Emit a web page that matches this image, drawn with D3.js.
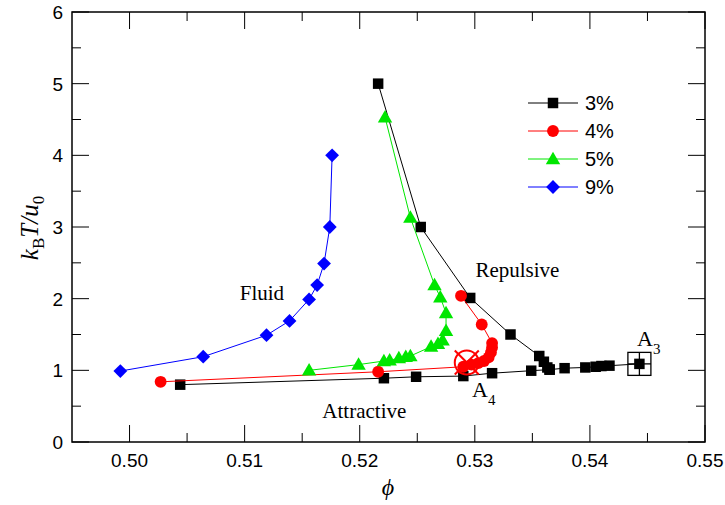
<!DOCTYPE html>
<html>
<head>
<meta charset="utf-8">
<script src="https://cdn.jsdelivr.net/npm/d3@7"></script>
<style>
  body { margin: 0; background: #fff; }
  svg text { fill: #000; }
</style>
</head>
<body>
<svg id="chart" width="725" height="505"></svg>
<script>
// phase diagram: kT/u0 vs packing fraction for several polydispersities

// 3% — two branches that meet near phi = 0.5365
const s3Upper = [[0.5216, 5.0], [0.5253, 3.0], [0.5296, 2.01], [0.5331, 1.5], [0.5356, 1.2],
                 [0.5360, 1.12], [0.5363, 1.04], [0.5365, 1.01]];
const s3Lower = [[0.5044, 0.80], [0.5221, 0.89], [0.5249, 0.91], [0.5290, 0.92], [0.5315, 0.96],
                 [0.5349, 0.995], [0.5365, 1.01], [0.5378, 1.03], [0.5396, 1.04], [0.5405, 1.05],
                 [0.5410, 1.06], [0.5417, 1.065], [0.5443, 1.09]];
const s4 = [[0.5027, 0.84], [0.5216, 0.98], [0.5290, 1.05], [0.5297, 1.08], [0.5303, 1.10],
            [0.5308, 1.13], [0.5312, 1.18], [0.5314, 1.25], [0.5315, 1.32], [0.5315, 1.38],
            [0.5306, 1.64], [0.5288, 2.04]];
const s5 = [[0.5156, 1.00], [0.5199, 1.08], [0.5221, 1.13], [0.5226, 1.14], [0.5234, 1.17],
            [0.5240, 1.19], [0.5244, 1.20], [0.5262, 1.33], [0.5268, 1.37], [0.5272, 1.42],
            [0.5275, 1.55], [0.5275, 1.80], [0.5270, 2.02], [0.5265, 2.19], [0.5244, 3.13],
            [0.5222, 4.53]];
const s9 = [[0.4992, 0.99], [0.5064, 1.19], [0.5119, 1.49], [0.5139, 1.69], [0.5156, 1.99],
            [0.5163, 2.19], [0.5169, 2.49], [0.5174, 3.0], [0.5176, 4.0]];

const legendLabels = ["3%", "4%", "5%", "9%"];
const xTicks = [0.50, 0.51, 0.52, 0.53, 0.54, 0.55];
const yTicks = [0, 1, 2, 3, 4, 5, 6];
const A3 = [0.5443, 1.09];
const A4 = [0.5293, 1.11];
const regionLabels = [["Fluid", 0.5115, 1.98], ["Repulsive", 0.5337, 2.30], ["Attractive", 0.5204, 0.33]];

const svg = d3.select("#chart");
const L = 72, R = 705, T = 12, B = 442;
const x = d3.scaleLinear().domain([0.495, 0.55]).range([L, R]);
const y = d3.scaleLinear().domain([0, 6]).range([B, T]);

const sans = "'Liberation Sans', Arial, sans-serif";
const serif = "'Liberation Serif', 'Times New Roman', serif";

// ticks on all four sides, pointing in
const xMinor = d3.range(0.505, 0.55, 0.01);
const yMinor = d3.range(0.5, 6, 1);
const tk = svg.append("g").attr("stroke", "#000").attr("stroke-width", 1);
xTicks.concat(xMinor).forEach((v, i) => {
  const len = i < xTicks.length ? 17 : 9;
  tk.append("line").attr("x1", x(v)).attr("x2", x(v)).attr("y1", B).attr("y2", B - len);
  tk.append("line").attr("x1", x(v)).attr("x2", x(v)).attr("y1", T).attr("y2", T + len);
});
yTicks.concat(yMinor).forEach((v, i) => {
  const len = i < yTicks.length ? 17 : 9;
  tk.append("line").attr("y1", y(v)).attr("y2", y(v)).attr("x1", L).attr("x2", L + len);
  tk.append("line").attr("y1", y(v)).attr("y2", y(v)).attr("x1", R).attr("x2", R - len);
});
svg.append("rect").attr("x", L).attr("y", T).attr("width", R - L).attr("height", B - T)
  .attr("fill", "none").attr("stroke", "#000").attr("stroke-width", 1.5);

svg.append("g").selectAll("text").data(xTicks).join("text")
  .attr("x", d => x(d)).attr("y", 467).attr("text-anchor", "middle")
  .style("font-family", sans).style("font-size", "19px")
  .text(d => d3.format(".2f")(d));
svg.append("g").selectAll("text").data(yTicks).join("text")
  .attr("x", 63).attr("y", d => y(d) + 7).attr("text-anchor", "end")
  .style("font-family", sans).style("font-size", "19px")
  .text(d => d);

// axis titles
svg.append("text").attr("x", 388).attr("y", 495).attr("text-anchor", "middle")
  .style("font-family", serif).style("font-style", "italic").style("font-size", "24px").text("ϕ");
const yl = svg.append("text").attr("transform", "translate(38,228) rotate(-90)")
  .attr("text-anchor", "middle").style("font-family", serif).style("font-size", "25px");
yl.append("tspan").style("font-style", "italic").text("k");
yl.append("tspan").attr("dy", 6).style("font-size", "17px").text("B");
yl.append("tspan").attr("dy", -6).style("font-style", "italic").text("T/u");
yl.append("tspan").attr("dy", 6).style("font-size", "17px").text("0");

// markers
const sym = {
  square: d3.symbol().type(d3.symbolSquare).size(110),
  circle: d3.symbol().type(d3.symbolCircle).size(110),
  triangle: d3.symbol().type(d3.symbolTriangle).size(90),
  diamond: d3.symbol().type(d3.symbolSquare).size(95)
};
const series = [
  { parts: [s3Upper, s3Lower], color: "#000", marker: "square" },
  { parts: [s4], color: "#ff0000", marker: "circle" },
  { parts: [s5], color: "#00e600", marker: "triangle" },
  { parts: [s9], color: "#0000ff", marker: "diamond" }
];
const line = d3.line().x(d => x(d[0])).y(d => y(d[1]));

function marker(g, s, px, py) {
  const p = g.append("path").attr("d", sym[s.marker]()).attr("fill", s.color);
  let tf = `translate(${px},${py})`;
  if (s.marker === "diamond") tf += " rotate(45)";
  if (s.marker === "triangle") tf = `translate(${px},${py + 1})`;
  p.attr("transform", tf);
}

series.forEach(s => {
  const g = svg.append("g");
  s.parts.forEach(part => {
    g.append("path").attr("d", line(part)).attr("fill", "none")
      .attr("stroke", s.color).attr("stroke-width", 1);
  });
  s.parts.forEach(part => part.forEach(d => marker(g, s, x(d[0]), y(d[1]))));
});

// critical points
const a3x = x(A3[0]), a3y = y(A3[1]);
const a3 = svg.append("g").attr("stroke", "#000").attr("stroke-width", 1.3).attr("fill", "none");
a3.append("rect").attr("x", a3x - 11.5).attr("y", a3y - 11.5).attr("width", 23).attr("height", 23);
a3.append("line").attr("x1", a3x).attr("x2", a3x).attr("y1", a3y - 11.5).attr("y2", a3y + 11.5);
a3.append("line").attr("x1", a3x - 11.5).attr("x2", a3x + 11.5).attr("y1", a3y).attr("y2", a3y);

const a4x = x(A4[0]), a4y = y(A4[1]);
const a4 = svg.append("g").attr("stroke", "#ff0000").attr("stroke-width", 2).attr("fill", "none");
a4.append("circle").attr("cx", a4x).attr("cy", a4y).attr("r", 12);
a4.append("line").attr("x1", a4x - 12).attr("y1", a4y - 12).attr("x2", a4x + 12).attr("y2", a4y + 12);
a4.append("line").attr("x1", a4x - 12).attr("y1", a4y + 12).attr("x2", a4x + 12).attr("y2", a4y - 12);

function crit(px, py, sub) {
  const t = svg.append("text").attr("x", px).attr("y", py)
    .style("font-family", serif).style("font-size", "22px");
  t.append("tspan").text("A");
  t.append("tspan").attr("dy", 8).style("font-size", "15px").text(sub);
}
crit(637, 346, "3");
crit(472, 397, "4");

regionLabels.forEach(([txt, px, py]) => {
  svg.append("text").attr("x", x(px)).attr("y", y(py)).attr("text-anchor", "middle")
    .style("font-family", serif).style("font-size", "21px").text(txt);
});

// legend
const lg = svg.append("g");
legendLabels.forEach((lab, i) => {
  const ly = 103 + i * 28;
  const s = series[i];
  lg.append("line").attr("x1", 528).attr("x2", 578).attr("y1", ly).attr("y2", ly)
    .attr("stroke", s.color).attr("stroke-width", 1);
  marker(lg, s, 553, ly);
  lg.append("text").attr("x", 585).attr("y", ly + 7)
    .style("font-family", sans).style("font-size", "20px").text(lab);
});
</script>
</body>
</html>
